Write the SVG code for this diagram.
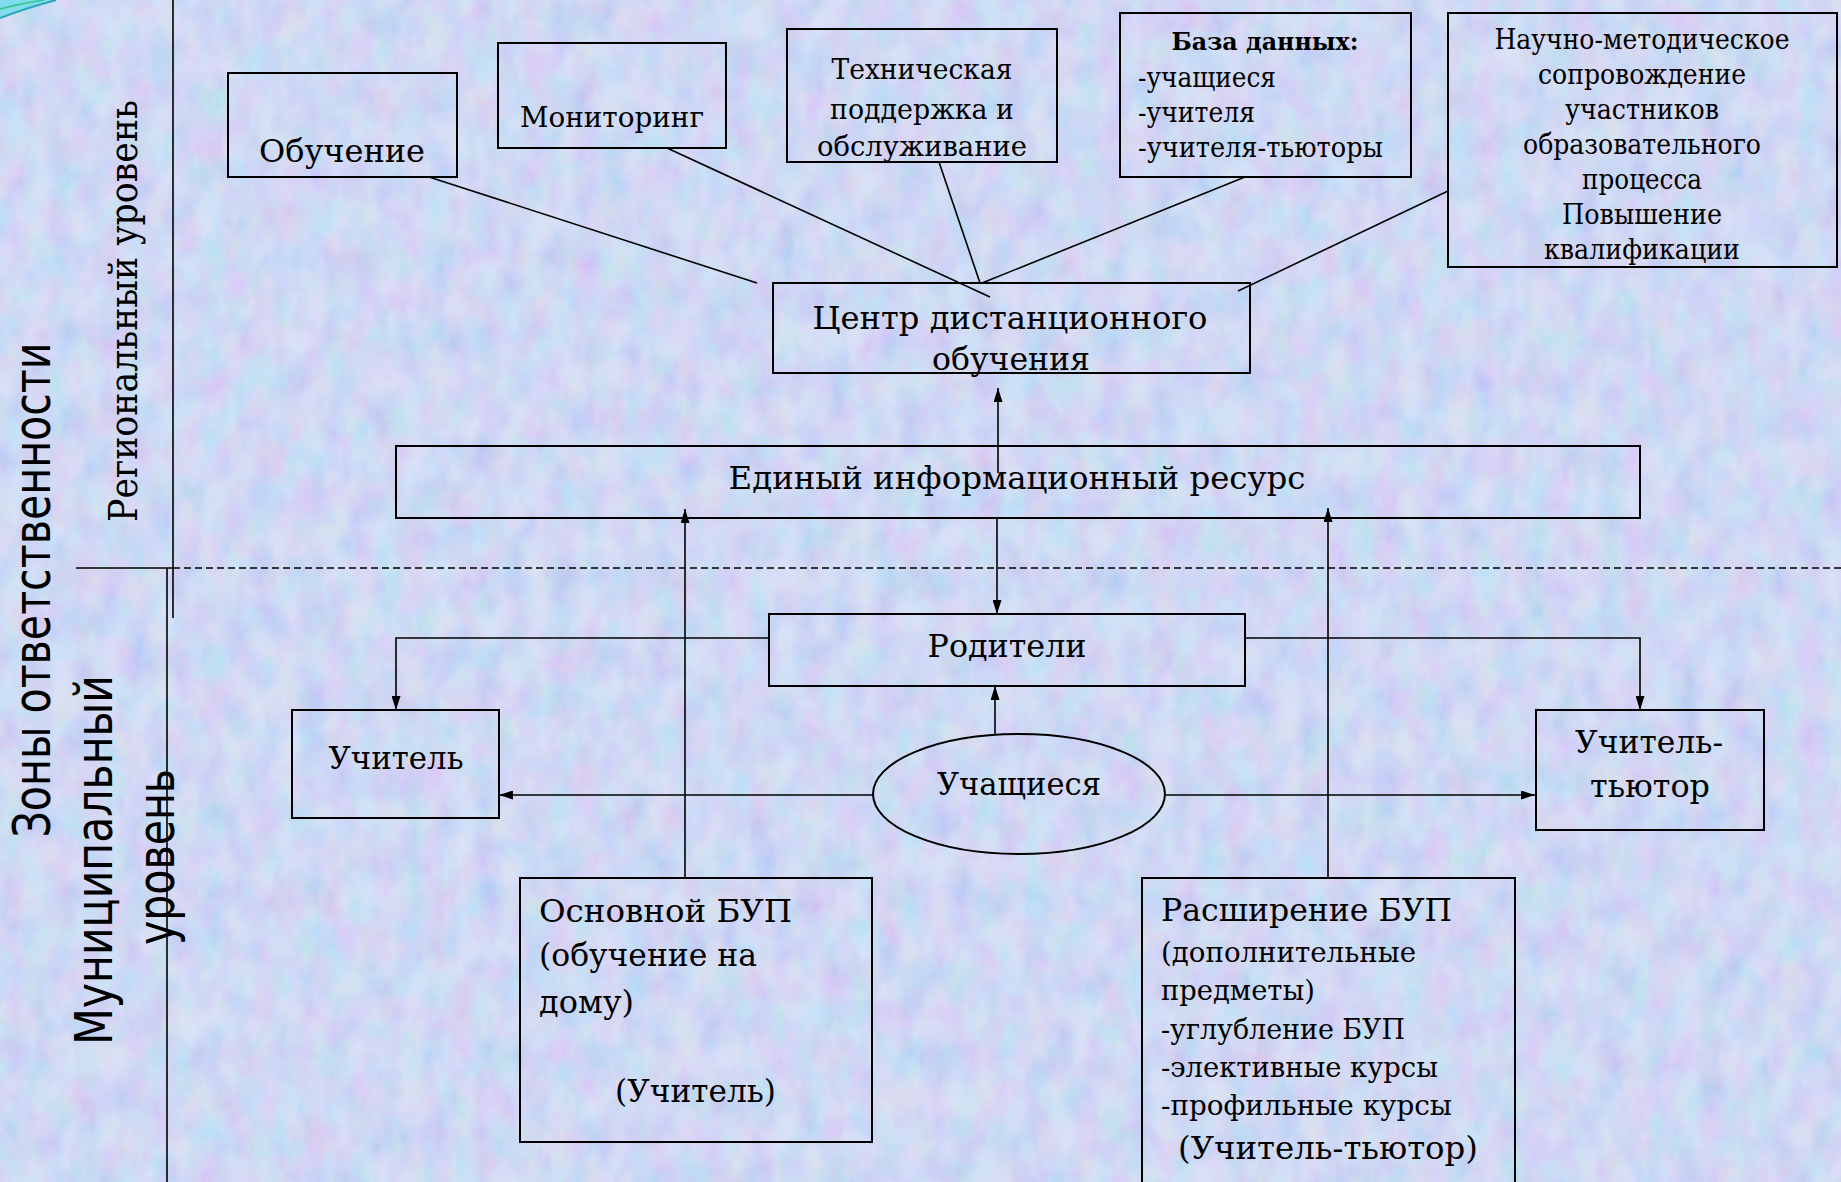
<svg xmlns="http://www.w3.org/2000/svg" width="1841" height="1182" viewBox="0 0 1841 1182">
<defs>
<filter id="tex" x="0" y="0" width="100%" height="100%" filterUnits="objectBoundingBox">
<feTurbulence type="fractalNoise" baseFrequency="0.04 0.025" numOctaves="3" seed="11" result="t"/>
<feColorMatrix in="t" type="matrix" values="1.0 0 0 0 0.3  0 0.8 0 0 0.42  0 0 0.4 0 0.75  0 0 0 0 0.4"/>
</filter>
<marker id="ah" viewBox="0 0 14 9" refX="14" refY="4.5" markerWidth="14" markerHeight="9" markerUnits="userSpaceOnUse" orient="auto">
<path d="M0,0 L14,4.5 L0,9 z" fill="#000"/>
</marker>
<style>
.box{fill:none;stroke:#000;stroke-width:2}
.ln{fill:none;stroke:#000;stroke-width:1.6}
.ar{fill:none;stroke:#000;stroke-width:1.6;marker-end:url(#ah)}
.t{font-family:"DejaVu Serif","Liberation Serif",serif;fill:#000}
.big{font-size:32px}
.mid{font-size:28px}
.sm{font-size:27px}
.side{font-family:"DejaVu Sans","Liberation Sans",sans-serif;font-size:52px;fill:#000}
.sides{font-family:"DejaVu Serif","Liberation Serif",serif;font-size:40px;fill:#000}
</style>
</defs>
<rect width="1841" height="1182" fill="#bfcdf0"/>
<rect width="1841" height="1182" filter="url(#tex)"/>

<g id="decor">
<path d="M0,0 L52,0 Q22,8 0,17 Z" fill="#7fdcea"/>
<path d="M0,18 Q26,8 56,0" fill="none" stroke="#1fa9b8" stroke-width="2"/>
<path d="M0,9 Q22,3 44,0" fill="none" stroke="#37c48f" stroke-width="1.5"/>
</g>

<g id="zones">
<line x1="173" y1="0" x2="173" y2="618" class="ln"/>
<line x1="167" y1="568" x2="167" y2="1182" class="ln"/>
<line x1="76" y1="568" x2="173" y2="568" class="ln"/>
<line x1="173" y1="568" x2="1841" y2="568" class="ln" stroke-dasharray="7 4"/>
<text class="side" transform="translate(50,590) rotate(-90)" text-anchor="middle" textLength="495" lengthAdjust="spacingAndGlyphs">Зоны ответственности</text>
<text class="sides" transform="translate(137,311) rotate(-90)" text-anchor="middle" textLength="422" lengthAdjust="spacingAndGlyphs">Региональный уровень</text>
<text class="side" transform="translate(112,860) rotate(-90)" text-anchor="middle" textLength="370" lengthAdjust="spacingAndGlyphs">Муниципальный</text>
<text class="side" transform="translate(174,857) rotate(-90)" text-anchor="middle" textLength="176" lengthAdjust="spacingAndGlyphs">уровень</text>
</g>

<g id="connectors">
<line x1="429" y1="177" x2="757" y2="283" class="ln"/>
<line x1="667" y1="148" x2="990" y2="297" class="ln"/>
<line x1="939" y1="162" x2="980" y2="283" class="ln"/>
<line x1="1245" y1="177" x2="982" y2="283" class="ln"/>
<line x1="1448" y1="191" x2="1238" y2="291" class="ln"/>
<line x1="998" y1="473" x2="998" y2="388" class="ar"/>
<line x1="997" y1="518" x2="997" y2="614" class="ar"/>
<line x1="995" y1="734" x2="995" y2="686" class="ar"/>
<line x1="873" y1="795" x2="499" y2="795" class="ar"/>
<line x1="1165" y1="795" x2="1535" y2="795" class="ar"/>
<path d="M769,638 H396 V710" class="ar"/>
<path d="M1245,638 H1640 V710" class="ar"/>
<line x1="685" y1="878" x2="685" y2="509" class="ar"/>
<line x1="1328" y1="878" x2="1328" y2="508" class="ar"/>
</g>

<g id="n-obuchenie">
<rect x="228" y="73" width="229" height="104" class="box"/>
<text class="t big" x="342" y="162" text-anchor="middle" textLength="166" lengthAdjust="spacingAndGlyphs">Обучение</text>
</g>
<g id="n-monitoring">
<rect x="498" y="43" width="228" height="105" class="box"/>
<text class="t mid" x="612" y="127" text-anchor="middle" textLength="184" lengthAdjust="spacingAndGlyphs">Мониторинг</text>
</g>
<g id="n-tech">
<rect x="787" y="29" width="270" height="133" class="box"/>
<text class="t mid" x="922" y="79" text-anchor="middle" textLength="181" lengthAdjust="spacingAndGlyphs">Техническая</text>
<text class="t mid" x="922" y="119" text-anchor="middle" textLength="184" lengthAdjust="spacingAndGlyphs">поддержка и</text>
<text class="t mid" x="922" y="156" text-anchor="middle" textLength="210" lengthAdjust="spacingAndGlyphs">обслуживание</text>
</g>
<g id="n-db">
<rect x="1120" y="13" width="291" height="164" class="box"/>
<text class="t" x="1265" y="50" font-size="25" text-anchor="middle" font-weight="bold" textLength="187" lengthAdjust="spacingAndGlyphs">База данных:</text>
<text class="t sm" x="1138" y="87" textLength="138" lengthAdjust="spacingAndGlyphs">-учащиеся</text>
<text class="t sm" x="1138" y="122" textLength="117" lengthAdjust="spacingAndGlyphs">-учителя</text>
<text class="t sm" x="1138" y="157" textLength="245" lengthAdjust="spacingAndGlyphs">-учителя-тьюторы</text>
</g>
<g id="n-method">
<rect x="1448" y="13" width="389" height="254" class="box"/>
<text class="t sm" x="1642" y="49" text-anchor="middle" textLength="295" lengthAdjust="spacingAndGlyphs">Научно-методическое</text>
<text class="t sm" x="1642" y="84" text-anchor="middle" textLength="208" lengthAdjust="spacingAndGlyphs">сопровождение</text>
<text class="t sm" x="1642" y="119" text-anchor="middle" textLength="154" lengthAdjust="spacingAndGlyphs">участников</text>
<text class="t sm" x="1642" y="154" text-anchor="middle" textLength="238" lengthAdjust="spacingAndGlyphs">образовательного</text>
<text class="t sm" x="1642" y="189" text-anchor="middle" textLength="120" lengthAdjust="spacingAndGlyphs">процесса</text>
<text class="t sm" x="1642" y="224" text-anchor="middle" textLength="160" lengthAdjust="spacingAndGlyphs">Повышение</text>
<text class="t sm" x="1642" y="259" text-anchor="middle" textLength="196" lengthAdjust="spacingAndGlyphs">квалификации</text>
</g>
<g id="n-center">
<rect x="773" y="283" width="477" height="90" class="box"/>
<text class="t big" x="1010" y="329" text-anchor="middle" textLength="395" lengthAdjust="spacingAndGlyphs">Центр дистанционного</text>
<text class="t big" x="1011" y="370" text-anchor="middle" textLength="158" lengthAdjust="spacingAndGlyphs">обучения</text>
</g>
<g id="n-resource">
<rect x="396" y="446" width="1244" height="72" class="box"/>
<text class="t big" x="1017" y="489" text-anchor="middle" textLength="577" lengthAdjust="spacingAndGlyphs">Единый информационный ресурс</text>
</g>
<g id="n-parents">
<rect x="769" y="614" width="476" height="72" class="box"/>
<text class="t big" x="1007" y="657" text-anchor="middle" textLength="159" lengthAdjust="spacingAndGlyphs">Родители</text>
</g>
<g id="n-students">
<ellipse cx="1019" cy="794" rx="146" ry="60" class="box"/>
<text class="t big" x="1019" y="795" text-anchor="middle" textLength="164" lengthAdjust="spacingAndGlyphs">Учащиеся</text>
</g>
<g id="n-teacher">
<rect x="292" y="710" width="207" height="108" class="box"/>
<text class="t big" x="396" y="769" text-anchor="middle" textLength="135" lengthAdjust="spacingAndGlyphs">Учитель</text>
</g>
<g id="n-tutor">
<rect x="1536" y="710" width="228" height="120" class="box"/>
<text class="t big" x="1649" y="753" text-anchor="middle" textLength="148" lengthAdjust="spacingAndGlyphs">Учитель-</text>
<text class="t big" x="1650" y="797" text-anchor="middle" textLength="120" lengthAdjust="spacingAndGlyphs">тьютор</text>
</g>
<g id="n-basic">
<rect x="520" y="878" width="352" height="264" class="box"/>
<text class="t big" x="539" y="922" textLength="253" lengthAdjust="spacingAndGlyphs">Основной БУП</text>
<text class="t big" x="539" y="966" textLength="218" lengthAdjust="spacingAndGlyphs">(обучение на</text>
<text class="t big" x="539" y="1013" textLength="95" lengthAdjust="spacingAndGlyphs">дому)</text>
<text class="t big" x="615" y="1102" textLength="161" lengthAdjust="spacingAndGlyphs">(Учитель)</text>
</g>
<g id="n-ext">
<rect x="1142" y="878" width="373" height="320" class="box"/>
<text class="t big" x="1161" y="921" textLength="291" lengthAdjust="spacingAndGlyphs">Расширение БУП</text>
<text class="t mid" x="1161" y="962" textLength="255" lengthAdjust="spacingAndGlyphs">(дополнительные</text>
<text class="t mid" x="1161" y="1000" textLength="154" lengthAdjust="spacingAndGlyphs">предметы)</text>
<text class="t mid" x="1161" y="1039" textLength="244" lengthAdjust="spacingAndGlyphs">-углубление БУП</text>
<text class="t mid" x="1161" y="1077" textLength="277" lengthAdjust="spacingAndGlyphs">-элективные курсы</text>
<text class="t mid" x="1161" y="1115" textLength="291" lengthAdjust="spacingAndGlyphs">-профильные курсы</text>
<text class="t big" x="1178" y="1159" textLength="300" lengthAdjust="spacingAndGlyphs">(Учитель-тьютор)</text>
</g>
</svg>
